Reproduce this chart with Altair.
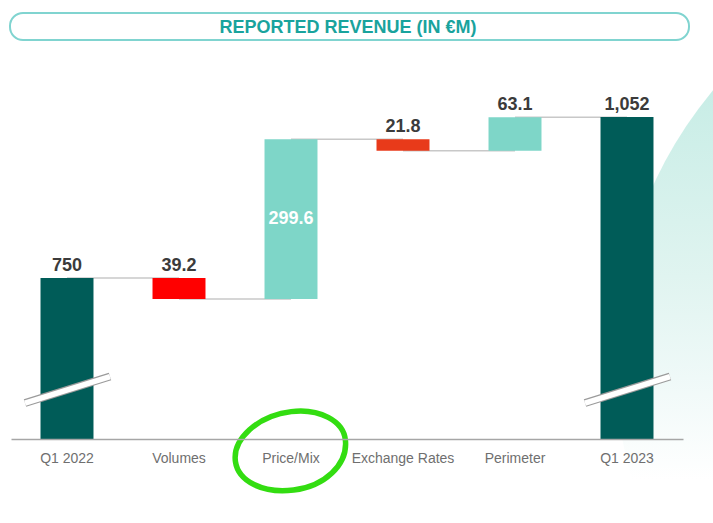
import altair as alt
import pandas as pd

# ---------------- data ----------------
categories = ["Q1 2022", "Volumes", "Price/Mix", "Exchange Rates", "Perimeter", "Q1 2023"]
values = [750, -39.2, 299.6, -21.8, 63.1, 1052]
kinds = ["total", "decrease", "increase", "decrease", "increase", "total"]
labels = ["750", "39.2", "299.6", "21.8", "63.1", "1,052"]
label_inside = [False, False, True, False, False, False]
bar_colors = ["#005c58", "#ff0000", "#7ed6c8", "#e83a1a", "#7ed6c8", "#005c58"]

AXIS_MIN = 448      # broken axis: bars for totals start here
AXIS_MAX = 1159
BREAK_LOW = 515.5   # break mark ends (in data units)
BREAK_HIGH = 565.2
circled = ["Price/Mix"]

# ---------------- build tables ----------------
rows = []
running = 0
for c, v, k, lab, ins, col in zip(categories, values, kinds, labels, label_inside, bar_colors):
    if k == "total":
        start, end = AXIS_MIN, v
        running = v
    else:
        start, end = running, running + v
        running = end
    rows.append(dict(cat=c, start=start, end=end, top=max(start, end),
                     mid=(start + end) / 2, label=lab, inside=ins, color=col))
df = pd.DataFrame(rows)

conn = pd.DataFrame([
    dict(cat=categories[i], nxt=categories[i + 1],
         level=(values[i] if kinds[i] == "total" else rows[i]["end"]))
    for i in range(len(categories) - 1)
])
breaks = pd.DataFrame({
    "cat": [c for c, k in zip(categories, kinds) if k == "total"],
})
breaks["lo"] = BREAK_LOW
breaks["hi"] = BREAK_HIGH
circ = pd.DataFrame({"cat": circled})
one = pd.DataFrame({"a": [0]})

xscale = alt.Scale(domain=categories, paddingInner=0.527, paddingOuter=0.2635)
X = alt.X("cat:N", sort=categories, scale=xscale, title=None,
          axis=alt.Axis(labelAngle=0, ticks=False, labelPadding=12, zindex=1))
yscale = alt.Scale(domain=[AXIS_MIN, AXIS_MAX], zero=False, nice=False)

# ---------------- layers ----------------
bg = alt.Chart(one).mark_point(
    shape="circle", size=846 * 846, filled=True, opacity=1, strokeWidth=0,
    fill=alt.LinearGradient(gradient="linear", x1=0, y1=0, x2=0, y2=1, stops=[
        alt.GradientStop(offset=0.18, color="#c8ede6"),
        alt.GradientStop(offset=0.40, color="#e0f4f0"),
        alt.GradientStop(offset=0.52, color="#eff9f8"),
        alt.GradientStop(offset=0.64, color="#ffffff"),
    ]),
).encode(x=alt.value(1027), y=alt.value(301))

title_box = alt.Chart(one).mark_rect(
    cornerRadius=13, fill="white", fillOpacity=0, stroke="#80d4d0", strokeWidth=2
).encode(x=alt.value(-1), x2=alt.value(678), y=alt.value(-47), y2=alt.value(-20))

title_text = alt.Chart(one).mark_text(
    text="REPORTED REVENUE (IN €M)", font="Liberation Sans", fontWeight="bold",
    fontSize=18, color="#19a39d", align="center", baseline="alphabetic"
).encode(x=alt.value(337), y=alt.value(-27))

connectors = alt.Chart(conn).mark_rule(color="#c8c8c8", strokeWidth=1.5).encode(
    x=X, x2="nxt:N", y=alt.Y("level:Q", scale=yscale, axis=None)
)

bars = alt.Chart(df).mark_bar().encode(
    x=X,
    y=alt.Y("start:Q", scale=yscale, axis=None),
    y2="end:Q",
    color=alt.Color("color:N", scale=None),
)

break_gray = alt.Chart(breaks).mark_rule(
    color="#9b9b9b", strokeWidth=8, strokeCap="butt", xOffset=-42, x2Offset=43
).encode(x=X, x2="cat:N", y=alt.Y("lo:Q", scale=yscale, axis=None), y2="hi:Q")

break_white = alt.Chart(breaks).mark_rule(
    color="white", strokeWidth=5.5, strokeCap="butt", xOffset=-42, x2Offset=43
).encode(x=X, x2="cat:N", y=alt.Y("lo:Q", scale=yscale, axis=None), y2="hi:Q")

lab_out = alt.Chart(df).transform_filter("!datum.inside").mark_text(
    font="Liberation Sans", fontWeight="bold", fontSize=18, color="#3b3b3b",
    baseline="alphabetic", dy=-7
).encode(x=X, y=alt.Y("top:Q", scale=yscale, axis=None), text="label:N")

lab_in = alt.Chart(df).transform_filter("datum.inside").mark_text(
    font="Liberation Sans", fontWeight="bold", fontSize=18, color="white",
    baseline="middle"
).encode(x=X, y=alt.Y("mid:Q", scale=yscale, axis=None), text="label:N")

ellipse = alt.Chart(circ).mark_point(
    shape="M -1 0.05 C -1 -0.35 -0.5 -0.7 0.1 -0.69 C 0.6 -0.68 1 -0.4 0.98 -0.05 "
          "C 0.96 0.38 0.5 0.7 -0.05 0.69 C -0.6 0.68 -1 0.4 -1 0.05 Z",
    size=113 * 113, filled=False, stroke="#33dd11", strokeWidth=5.5, opacity=1, angle=352
).encode(x=X, y=alt.value(391))

chart = alt.layer(
    bg, title_box, title_text, connectors, bars, break_gray, break_white, lab_out, lab_in, ellipse
).properties(
    width=672, height=379,
    padding={"left": 11, "top": 60, "right": 30, "bottom": 84},
    autosize=alt.AutoSizeParams(type="none"),
    background="white",
).configure_view(stroke=None).configure_axis(
    domainColor="#a6a6a6", domainWidth=1.5, labelColor="#6f6f6f",
    labelFont="Liberation Sans", labelFontSize=14, grid=False,
)

chart.save("out.html", embed_options={"renderer": "svg", "actions": False})
